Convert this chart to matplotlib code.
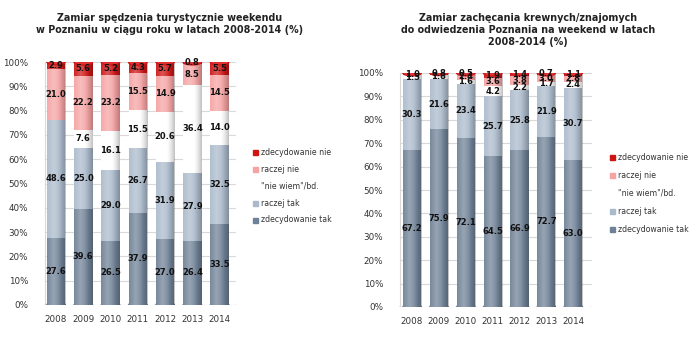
import numpy as np
import matplotlib.pyplot as plt
from matplotlib.patches import Ellipse, Rectangle

years = ["2008", "2009", "2010", "2011", "2012", "2013", "2014"]
series_names = ["zdecydowanie tak", "raczej tak", "\"nie wiem\"/bd.", "raczej nie", "zdecydowanie nie"]

# chart 1: spending a tourist weekend in Poznan
weekend_zdec_tak = [27.6, 39.6, 26.5, 37.9, 27.0, 26.4, 33.5]
weekend_raczej_tak = [48.6, 25.0, 29.0, 26.7, 31.9, 27.9, 32.5]
weekend_nie_wiem = [0.0, 7.6, 16.1, 15.5, 20.6, 36.4, 14.0]
weekend_raczej_nie = [21.0, 22.2, 23.2, 15.5, 14.9, 8.5, 14.5]
weekend_zdec_nie = [2.9, 5.6, 5.2, 4.3, 5.7, 0.8, 5.5]

# chart 2: encouraging relatives/friends to visit
polecanie_zdec_tak = [67.2, 75.9, 72.1, 64.5, 66.9, 72.7, 63.0]
polecanie_raczej_tak = [30.3, 21.6, 23.4, 25.7, 25.8, 21.9, 30.7]
polecanie_nie_wiem = [1.5, 1.8, 1.6, 4.2, 2.2, 1.7, 2.4]
polecanie_raczej_nie = [0.0, 0.0, 2.4, 3.6, 3.8, 3.0, 2.8]
polecanie_zdec_nie = [1.0, 0.8, 0.5, 1.9, 1.4, 0.7, 1.1]

colors = ["#6f8196", "#abbacb", "#ffffff", "#f5a3a3", "#cf1414"]

title_1 = "Zamiar spędzenia turystycznie weekendu\nw Poznaniu w ciągu roku w latach 2008-2014 (%)"
title_2 = "Zamiar zachęcania krewnych/znajomych\ndo odwiedzenia Poznania na weekend w latach\n2008-2014 (%)"

plt.rcParams["font.family"] = ["DejaVu Sans"]

fig = plt.figure(figsize=(6.96, 3.38), dpi=100)
W, H = 696, 338


def px_axes(x0, x1, y_top, y_bot):
    return fig.add_axes([x0 / W, 1 - y_bot / H, (x1 - x0) / W, (y_bot - y_top) / H])


def shade(ax, x, bottom, top, width):
    # cylinder-like shading over a bar
    grad = np.linspace(0, 1, 60)
    light = np.clip(1 - np.abs(grad - 0.35) * 2.2, 0, 1)
    rgba = np.zeros((1, 60, 4))
    rgba[..., :3] = 1.0
    rgba[0, :, 3] = 0.28 * light
    dark = np.zeros((1, 60, 4))
    dark[0, :, 3] = 0.25 * np.clip((grad - 0.55) / 0.45, 0, 1) ** 1.5
    for img in (rgba, dark):
        im = ax.imshow(img, extent=(x - width / 2, x + width / 2, bottom, top),
                       aspect="auto", zorder=3, interpolation="bilinear")
        clip = Rectangle((x - width / 2, bottom), width, top - bottom, transform=ax.transData)
        im.set_clip_path(clip)


def draw_chart(ax, data, xlim):
    x = np.arange(len(years))
    width = 0.68
    cap_h = 2.4
    grid_kw = dict(color="#d9d9d9", lw=0.8, zorder=0)
    for yv in range(0, 101, 10):
        ax.plot([xlim[0] + 0.25, xlim[1]], [yv, yv], **grid_kw)
    ax.plot([xlim[0] + 0.25, xlim[0] + 0.25], [0, 100], **grid_kw)
    ax.plot([xlim[0], xlim[0] + 0.25], [-1.2, 0], **grid_kw)
    ax.plot([xlim[1] - 0.25, xlim[1]], [-1.2, 0], **grid_kw)
    ax.plot([xlim[0], xlim[1] - 0.25], [-1.2, -1.2], **grid_kw)

    bottoms = np.zeros(len(years))
    for vals, col in zip(data, colors):
        vals = np.array(vals)
        ax.bar(x, vals, width, bottom=bottoms, color=col, edgecolor="none", zorder=2)
        bottoms = bottoms + vals
    for i in range(len(years)):
        shade(ax, x[i], 0, bottoms[i], width)
        ax.add_patch(Ellipse((x[i], 0), width, cap_h, color=colors[0], zorder=2))
        top_col = colors[4] if data[4][i] > 0 else colors[3]
        ax.add_patch(Ellipse((x[i], bottoms[i]), width, cap_h, color=top_col, zorder=4))
        ax.add_patch(Ellipse((x[i], bottoms[i]), width * 0.85, cap_h * 0.6,
                             color="#e84040", zorder=4, alpha=0.6))

    bottoms = np.zeros(len(years))
    for vals in data:
        for i, v in enumerate(vals):
            if v > 0:
                ax.text(x[i], bottoms[i] + v / 2, f"{v:.1f}", ha="center", va="center",
                        fontsize=6.0, fontweight="bold", color="#111111", zorder=5)
        bottoms = bottoms + np.array(vals)

    ax.set_xlim(*xlim)
    ax.set_ylim(0, 100)
    ax.set_xticks(x)
    ax.set_xticklabels(years)
    ax.set_yticks(range(0, 101, 10))
    ax.set_yticklabels([f"{v}%" for v in range(0, 101, 10)])
    ax.tick_params(length=0, labelsize=6.3, colors="#333333", pad=7)
    for s in ax.spines.values():
        s.set_visible(False)
    ax.set_facecolor("none")


def draw_legend(x_mark, y_first, step):
    for k, (name, col) in enumerate(zip(series_names[::-1], colors[::-1])):
        y = y_first + k * step
        fig.patches.append(Rectangle(((x_mark - 3) / W, 1 - (y + 3) / H), 5 / W, 5 / H,
                                     transform=fig.transFigure, color=col, figure=fig))
        fig.text((x_mark + 5) / W, 1 - y / H, name, fontsize=5.6, color="#333333",
                 va="center", ha="left")


ax1 = px_axes(38, 236, 62, 305)
draw_chart(ax1, [weekend_zdec_tak, weekend_raczej_tak, weekend_nie_wiem,
                 weekend_raczej_nie, weekend_zdec_nie], (-0.66, 6.6))
fig.text(170 / W, 1 - 24 / H, title_1, ha="center", va="center", fontsize=6.9,
         fontweight="bold", color="#222222", linespacing=1.3)
draw_legend(256, 152, 17)

ax2 = px_axes(393, 592, 73, 307)
draw_chart(ax2, [polecanie_zdec_tak, polecanie_raczej_tak, polecanie_nie_wiem,
                 polecanie_raczej_nie, polecanie_zdec_nie], (-0.71, 6.7))
fig.text(528 / W, 1 - 30 / H, title_2, ha="center", va="center", fontsize=6.9,
         fontweight="bold", color="#222222", linespacing=1.3)
draw_legend(613, 157, 18)

fig.savefig("out.png", dpi=100)
